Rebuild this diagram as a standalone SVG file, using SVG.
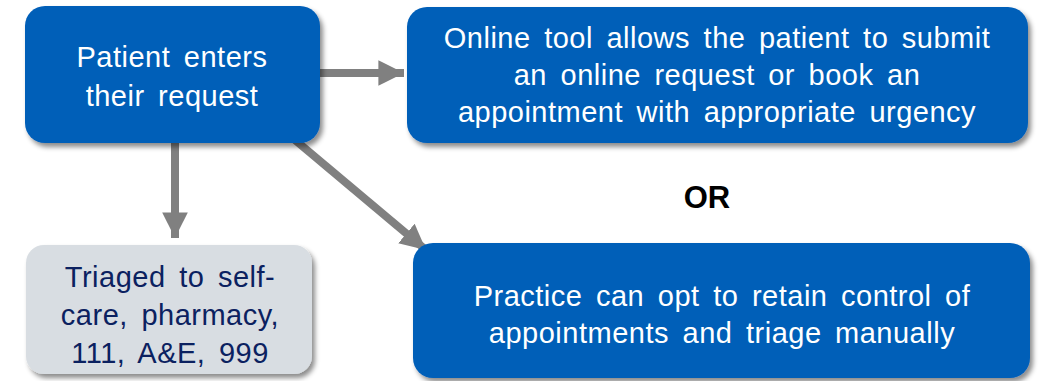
<svg xmlns="http://www.w3.org/2000/svg" width="1039" height="381" viewBox="0 0 1039 381">
<defs>
<filter id="sh" x="-10%" y="-10%" width="125%" height="130%">
<feGaussianBlur in="SourceAlpha" stdDeviation="2.5"/>
<feOffset dx="3" dy="4" result="b"/>
<feFlood flood-color="#000" flood-opacity="0.45"/>
<feComposite in2="b" operator="in"/>
<feMerge><feMergeNode/><feMergeNode in="SourceGraphic"/></feMerge>
</filter>
<marker id="ah" viewBox="0 0 10 10" refX="10" refY="5" markerWidth="3.2" markerHeight="3.2" markerUnits="strokeWidth" orient="auto">
<path d="M0,0 L10,5 L0,10 z" fill="#808080"/>
</marker>
<style>
.blue{fill:#005EB8;filter:url(#sh)}
.grey{fill:#D8DDE2;filter:url(#sh)}
.t{font-family:"Liberation Sans",Arial,sans-serif;font-size:29px;letter-spacing:0.5px;word-spacing:5px;text-anchor:middle}
.w{fill:#fff}
.n{fill:#0B2160}
.c{stroke:#808080;stroke-width:8;fill:none;marker-end:url(#ah)}
</style>
</defs>
<g id="connectors">
<line class="c" x1="320" y1="73" x2="404" y2="73"/>
<line class="c" x1="175" y1="143" x2="175" y2="238"/>
<line class="c" x1="295" y1="140" x2="426" y2="250"/>
</g>
<g id="patient">
<rect class="blue" x="25" y="6" width="295" height="137" rx="20"/>
<text class="t w" x="172" y="67">Patient enters</text>
<text class="t w" x="172" y="106">their request</text>
</g>
<g id="online">
<rect class="blue" x="407" y="7" width="621" height="136" rx="20"/>
<text class="t w" x="717" y="48">Online tool allows the patient to submit</text>
<text class="t w" x="717" y="85">an online request or book an</text>
<text class="t w" x="717" y="122">appointment with appropriate urgency</text>
</g>
<text x="707" y="208" font-family="Liberation Sans,Arial,sans-serif" font-size="31" font-weight="bold" text-anchor="middle" fill="#000">OR</text>
<g id="triaged">
<rect class="grey" x="26" y="245" width="286" height="129" rx="18"/>
<text class="t n" x="170" y="287">Triaged to self-</text>
<text class="t n" x="170" y="325">care, pharmacy,</text>
<text class="t n" x="170" y="363">111, A&amp;E, 999</text>
</g>
<g id="practice">
<rect class="blue" x="413" y="243" width="617" height="135" rx="20"/>
<text class="t w" x="722" y="306">Practice can opt to retain control of</text>
<text class="t w" x="722" y="343">appointments and triage manually</text>
</g>
</svg>
